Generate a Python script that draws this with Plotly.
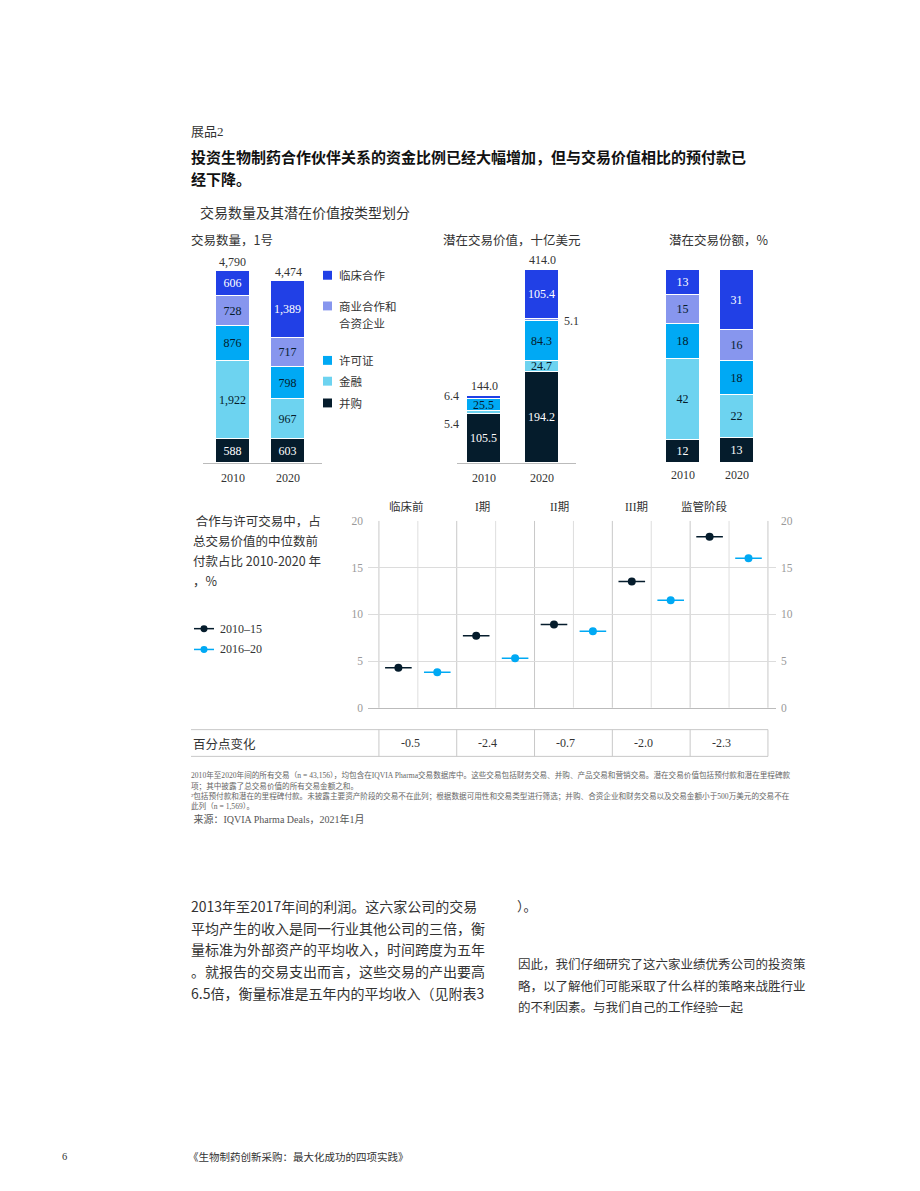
import plotly.graph_objects as go

W, H = 920, 1191
SERIF = "Liberation Serif, Noto Sans CJK SC"
CJK = "Noto Sans CJK SC"


def X(px):
    return px / W


def Y(py):
    return 1 - py / H


# ---------------- data ----------------
years = ["2010", "2020"]
deal_types = ["并购", "金融", "许可证", "商业合作和合资企业", "临床合作"]  # bottom -> top
legend_labels = ["并购", "金融", "许可证", "商业合作和<br>合资企业", "临床合作"]

deal_count_2010 = [588, 1922, 876, 728, 606]
deal_count_2020 = [603, 967, 798, 717, 1389]
deal_count_totals = ["4,790", "4,474"]

deal_value_2010 = [105.5, 5.4, 25.5, 1.2, 6.4]
deal_value_2020 = [194.2, 24.7, 84.3, 5.1, 105.4]
deal_value_totals = ["144.0", "414.0"]

deal_share_2010 = [12, 42, 18, 15, 13]
deal_share_2020 = [13, 22, 18, 16, 31]

stages = ["临床前", "I期", "II期", "III期", "监管阶段"]
upfront_2010_15 = [4.3, 7.7, 8.9, 13.5, 18.3]
upfront_2016_20 = [3.8, 5.3, 8.2, 11.5, 16.0]
pp_change = [-0.5, -2.4, -0.7, -2.0, -2.3]
period_labels = ["2010–15", "2016–20"]

# ---------------- styles ----------------
colors = ["#051C2C", "#6DD3F0", "#00A9F4", "#8796EE", "#2140E6"]
text_colors = ["white", "#051C2C", "#051C2C", "#051C2C", "white"]
period_colors = ["#051C2C", "#00A9F4"]
# value-chart segments whose label is drawn outside the bar (year index, type index)
outside_value_labels = {(0, 1): ("left", -10), (0, 4): ("left", 0), (1, 3): ("right", 0)}
hidden_value_labels = {(0, 3)}

fig = go.Figure()


def add_stack(xa, ya, v2010, v2020, fmt, width, hide=()):
    for i, name in enumerate(deal_types):
        vals = [v2010[i], v2020[i]]
        texts = []
        for j, v in enumerate(vals):
            texts.append("" if (j, i) in hide else fmt(v))
        fig.add_trace(go.Bar(
            x=[0, 1], y=vals, xaxis=xa, yaxis=ya, name=name, showlegend=False,
            width=width, marker=dict(color=colors[i], line=dict(color="white", width=1)),
            text=texts, textposition="inside", insidetextanchor="middle",
            textfont=dict(family=SERIF, size=12, color=text_colors[i]),
            hoverinfo="skip", cliponaxis=False,
        ))


add_stack("x", "y", deal_count_2010, deal_count_2020, lambda v: f"{v:,}", 0.618)
add_stack("x2", "y2", deal_value_2010, deal_value_2020, lambda v: f"{v:.1f}", 0.586,
          hide=set(outside_value_labels) | hidden_value_labels)
add_stack("x3", "y3", deal_share_2010, deal_share_2020, lambda v: f"{v}", 0.63)

# ---------------- dot plot ----------------
for p, (vals, col) in enumerate(zip([upfront_2010_15, upfront_2016_20], period_colors)):
    xs = [2 * k + p for k in range(len(stages))]
    fig.add_trace(go.Scatter(
        x=xs, y=vals, xaxis="x4", yaxis="y4", mode="markers", showlegend=False,
        marker=dict(symbol="line-ew", size=19, line=dict(color=col, width=1.5)),
        hoverinfo="skip"))
    fig.add_trace(go.Scatter(
        x=xs, y=vals, xaxis="x4", yaxis="y4", mode="markers", showlegend=False,
        name=period_labels[p], marker=dict(symbol="circle", size=8, color=col),
        hoverinfo="skip"))

annotations = []
shapes = []


def txt(s, x, y, size, color="#333", family=SERIF, anchor="left", **kw):
    d = dict(text=s, x=X(x), y=Y(y), xref="paper", yref="paper", xanchor=anchor,
             yanchor="middle", showarrow=False, font=dict(size=size, color=color, family=family))
    d.update(kw)
    annotations.append(d)


# bar totals
for xa, ya, v10, v20, totals in [("x", "y", deal_count_2010, deal_count_2020, deal_count_totals),
                                  ("x2", "y2", deal_value_2010, deal_value_2020, deal_value_totals)]:
    for j, (vals, t) in enumerate(zip([v10, v20], totals)):
        annotations.append(dict(text=t, x=j, y=sum(vals), xref=xa, yref=ya, xanchor="center",
                                yanchor="bottom", yshift=1, showarrow=False,
                                font=dict(size=12, color="#333", family=SERIF)))

# value-chart outside labels
vals_by_year = [deal_value_2010, deal_value_2020]
for (j, i), (side, ysh) in outside_value_labels.items():
    vals = vals_by_year[j]
    base = sum(vals[:i])
    if side == "left":
        yv = sum(vals) if i == len(vals) - 1 else base
        annotations.append(dict(text=f"{vals[i]:.1f}", x=j - 0.293, y=yv, xref="x2", yref="y2",
                                xanchor="right", yanchor="middle", xshift=-6, yshift=ysh,
                                showarrow=False, font=dict(size=12, color="#333", family=SERIF)))
    else:
        annotations.append(dict(text=f"{vals[i]:.1f}", x=j + 0.293, y=base + vals[i] / 2,
                                xref="x2", yref="y2", xanchor="left", yanchor="middle", xshift=3,
                                showarrow=False, font=dict(size=12, color="#333", family=SERIF)))

# bar legend
legend_y = [401, 379, 358, 303, 272]
for i, lab in enumerate(legend_labels):
    cy = legend_y[i]
    shapes.append(dict(type="rect", xref="paper", yref="paper", x0=X(323), x1=X(332),
                       y0=Y(cy + 4.5), y1=Y(cy - 4.5), fillcolor=colors[i], line=dict(width=0)))
    parts = lab.split("<br>")
    for k, part in enumerate(parts):
        txt(part, 337, cy + k * 17.5, 11.5, color="#333", family=CJK)

# headers
txt("展品2", 189, 127, 13, color="#333", family=SERIF)
txt("<b>投资生物制药合作伙伴关系的资金比例已经大幅增加，但与交易价值相比的预付款已</b>", 189, 152, 15,
    color="#111", family=CJK)
txt("<b>经下降。</b>", 189, 174, 15, color="#111", family=CJK)
txt("交易数量及其潜在价值按类型划分", 198, 208, 14, color="#333", family=CJK)
txt("交易数量，1号", 189, 236, 12.5, color="#333", family=CJK)
txt("潜在交易价值，十亿美元", 441, 236, 12.5, color="#333", family=CJK)
txt("潜在交易份额，%", 667, 236, 12.5, color="#333", family=CJK)

# dot plot left text
for k, line in enumerate([" 合作与许可交易中，占", "总交易价值的中位数前", "付款占比 2010-2020 年", "，%"]):
    txt(line, 191, [520, 540, 560, 580][k], 12.5, color="#333", family=CJK)

# dot plot legend
for p, lab in enumerate(period_labels):
    cy = [629, 650][p]
    shapes.append(dict(type="line", xref="paper", yref="paper", x0=X(194), x1=X(214),
                       y0=Y(cy), y1=Y(cy), line=dict(color=period_colors[p], width=1.5)))
    shapes.append(dict(type="circle", xref="paper", yref="paper", x0=X(200.5), x1=X(207.5),
                       y0=Y(cy + 3.5), y1=Y(cy - 3.5), fillcolor=period_colors[p],
                       line=dict(width=0)))
    txt(lab, 218, cy, 12, color="#333", family=SERIF)

# stage labels
stage_label_pos = [0.22, 2.17, 4.15, 6.13, 7.88]
for s, xp in zip(stages, stage_label_pos):
    annotations.append(dict(text=s, x=xp, y=Y(506), xref="x4", yref="paper", xanchor="center",
                            yanchor="middle", showarrow=False,
                            font=dict(size=11.5, color="#333", family=SERIF)))

# vertical lines of the dot plot
for k in range(11):
    xv = -0.5 + k
    boundary = k % 2 == 0
    shapes.append(dict(type="line", xref="x4", yref="y4", x0=xv, x1=xv, y0=0, y1=20,
                       line=dict(color="#c8c8c8" if boundary else "#dedede", width=1), layer="below"))
    if boundary:
        shapes.append(dict(type="line", xref="x4", yref="y4", ysizemode="pixel", yanchor=0,
                           x0=xv, x1=xv, y0=0, y1=-6, line=dict(color="#b0b0b0", width=1)))

# table row
for yy in [731, 758]:
    shapes.append(dict(type="line", xref="paper", yref="paper", x0=X(191), x1=X(768),
                       y0=Y(yy), y1=Y(yy), line=dict(color="#c8c8c8", width=1)))
for k in range(6):
    xv = -0.5 + 2 * k
    shapes.append(dict(type="line", xref="x4", yref="paper", x0=xv, x1=xv,
                       y0=Y(731), y1=Y(758), line=dict(color="#c8c8c8", width=1)))
txt("百分点变化", 191, 745, 12.5, color="#333", family=CJK)
for k, v in enumerate(pp_change):
    annotations.append(dict(text=f"{v:.1f}", x=2 * k + 0.3, y=Y(745), xref="x4", yref="paper",
                            xanchor="center", yanchor="middle", showarrow=False,
                            font=dict(size=12, color="#333", family=SERIF)))

# footnotes
foot = [
    "2010年至2020年间的所有交易（n = 43,156），均包含在IQVIA Pharma交易数据库中。这些交易包括财务交易、并购、产品交易和营销交易。潜在交易价值包括预付款和潜在里程碑款",
    "项；其中披露了总交易价值的所有交易金额之和。",
    "²包括预付款和潜在的里程碑付款。未披露主要资产阶段的交易不在此列；根据数据可用性和交易类型进行筛选；并购、合资企业和财务交易以及交易金额小于500万美元的交易不在",
    "此列（n = 1,569）。",
]
for k, line in enumerate(foot):
    txt(line, 189, [777, 787.5, 798, 808.5][k], 7.6, color="#666", family=SERIF)
txt(" 来源：IQVIA Pharma Deals，2021年1月", 189, 821, 10, color="#555", family=SERIF)

# body text
left_col = [
    "2013年至2017年间的利润。这六家公司的交易",
    "平均产生的收入是同一行业其他公司的三倍，衡",
    "量标准为外部资产的平均收入，时间跨度为五年",
    "。就报告的交易支出而言，这些交易的产出要高",
    "6.5倍，衡量标准是五年内的平均收入（见附表3",
]
for k, line in enumerate(left_col):
    txt(line, 189, 909 + 22 * k, 14, color="#333", family=CJK)
txt("）。", 515, 909, 13, color="#333", family=CJK)
right_col = [
    "因此，我们仔细研究了这六家业绩优秀公司的投资策",
    "略，以了解他们可能采取了什么样的策略来战胜行业",
    "的不利因素。与我们自己的工作经验一起",
]
for k, line in enumerate(right_col):
    txt(line, 516, 967 + 22 * k, 12.5, color="#333", family=CJK)

# footer
txt("6", 60, 1162, 10.5, color="#333", family=SERIF)
txt("《生物制药创新采购：最大化成功的四项实践》", 186, 1162, 10.5, color="#333", family=CJK)

tickfont = dict(family=SERIF, size=12, color="#333")
fig.update_layout(
    width=W, height=H, margin=dict(l=0, r=0, t=0, b=0),
    paper_bgcolor="white", plot_bgcolor="rgba(0,0,0,0)",
    barmode="stack", bargap=0,
    uniformtext=dict(minsize=12, mode="show"),
    showlegend=False,
    annotations=annotations, shapes=shapes,
    xaxis=dict(domain=[X(203), X(322)], range=[-0.545, 1.618], tickvals=[0, 1], ticktext=years,
               showline=True, linecolor="#bbbbbb", ticks="", showgrid=False, zeroline=False,
               tickfont=tickfont, anchor="y", fixedrange=True, ticklabelstandoff=3),
    yaxis=dict(domain=[Y(462), Y(262)], range=[0, 4880], visible=False, anchor="x"),
    xaxis2=dict(domain=[X(457), X(576)], range=[-0.4655, 1.586], tickvals=[0, 1], ticktext=years,
                showline=True, linecolor="#bbbbbb", ticks="", showgrid=False, zeroline=False,
                tickfont=tickfont, anchor="y2", ticklabelstandoff=3),
    yaxis2=dict(domain=[Y(462), Y(262)], range=[0, 424], visible=False, anchor="x2"),
    xaxis3=dict(domain=[X(655), X(765)], range=[-0.5185, 1.5185], tickvals=[0, 1], ticktext=years,
                showline=False, ticks="", showgrid=False, zeroline=False,
                tickfont=tickfont, anchor="y3", ticklabelstandoff=3),
    yaxis3=dict(domain=[Y(462), Y(262)], range=[0, 102.5], visible=False, anchor="x3"),
    xaxis4=dict(domain=[X(368), X(776)], range=[-0.781, 9.707], showticklabels=False,
                ticks="", showgrid=False, zeroline=False, showline=True, linecolor="#bbbbbb",
                anchor="y4"),
    yaxis4=dict(domain=[Y(709), Y(520)], range=[0, 20], tickvals=[0, 5, 10, 15, 20],
                showgrid=True, gridcolor="#dcdcdc", zeroline=False, ticks="",
                tickfont=dict(family=SERIF, size=11.5, color="#999"), anchor="x4",
                ticklabelstandoff=4),
    yaxis5=dict(domain=[Y(709), Y(520)], range=[0, 20], tickvals=[0, 5, 10, 15, 20],
                overlaying="y4", side="right", showgrid=False, zeroline=False, ticks="",
                tickfont=dict(family=SERIF, size=11.5, color="#999"), anchor="x4",
                ticklabelstandoff=4),
)
# dummy trace so yaxis5 is rendered
fig.add_trace(go.Scatter(x=[None], y=[None], xaxis="x4", yaxis="y5", showlegend=False,
                         hoverinfo="skip"))

fig.write_html("out.html")
